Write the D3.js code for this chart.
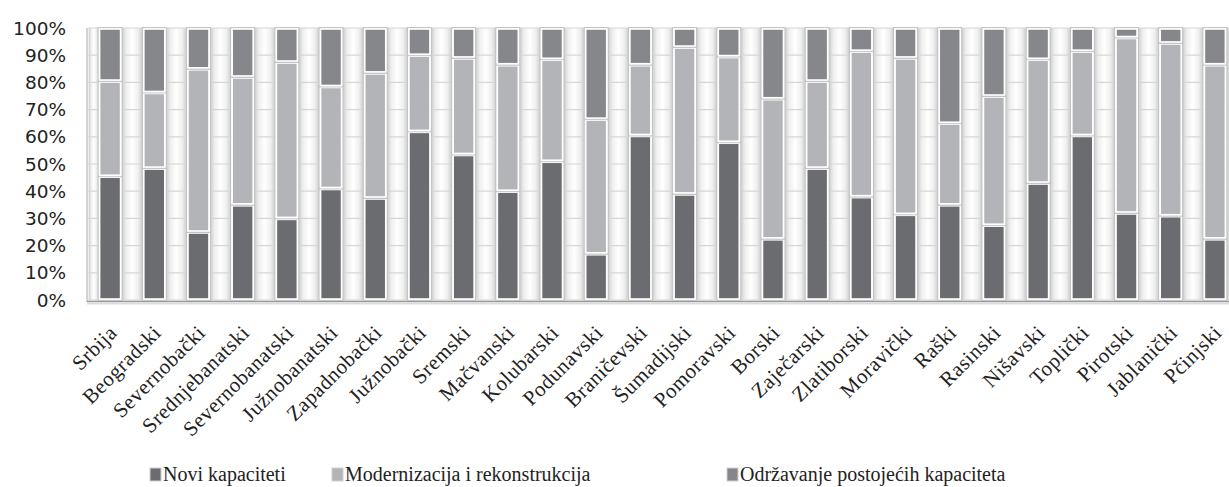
<!DOCTYPE html>
<html>
<head>
<meta charset="utf-8">
<script src="https://cdn.jsdelivr.net/npm/d3@7"></script>
<style>
  body { margin: 0; background: #fff; }
  svg { display: block; }
</style>
</head>
<body>
<div id="chart"></div>
<script>
// categories (districts)
var districts = ["Srbija", "Beogradski", "Severnobački", "Srednjebanatski", "Severnobanatski",
  "Južnobanatski", "Zapadnobački", "Južnobački", "Sremski", "Mačvanski", "Kolubarski",
  "Podunavski", "Braničevski", "Šumadijski", "Pomoravski", "Borski", "Zaječarski",
  "Zlatiborski", "Moravički", "Raški", "Rasinski", "Nišavski", "Toplički", "Pirotski",
  "Jablanički", "Pčinjski"];

// series values, percent
var noviKapaciteti = [45.5, 48.5, 25, 35, 30, 41, 37.5, 62, 53.5, 40, 51, 17, 60.5, 39, 58,
  22.5, 48.5, 38, 31.5, 35, 27.5, 43, 60.5, 32, 31, 22.5];
var modernizacija = [35, 27.8, 60, 47, 57.5, 37.5, 46, 28, 35.5, 46.5, 37.5, 49.5, 26, 54,
  31.5, 51.5, 32, 53.5, 57.5, 30, 47.5, 45.5, 31, 64.5, 63.5, 64];
var odrzavanje = [19.5, 23.7, 15, 18, 12.5, 21.5, 16.5, 10, 11, 13.5, 11.5, 33.5, 13.5, 7,
  10.5, 26, 19.5, 8.5, 11, 35, 25, 11.5, 8.5, 3.5, 5.5, 13.5];

var seriesNames = ["Novi kapaciteti", "Modernizacija i rekonstrukcija", "Održavanje postojećih kapaciteta"];
var yTicks = [0, 10, 20, 30, 40, 50, 60, 70, 80, 90, 100];

var colors = ["#6b6c70", "#b2b4b7", "#86878b"];

var width = 1229, height = 487;
var svg = d3.select("#chart").append("svg")
  .attr("width", width).attr("height", height);

var defs = svg.append("defs");
var grad = defs.append("linearGradient").attr("id", "gap").attr("x1", "0%").attr("x2", "100%");
grad.append("stop").attr("offset", "0%").attr("stop-color", "#c9c9c9");
grad.append("stop").attr("offset", "22%").attr("stop-color", "#efefef");
grad.append("stop").attr("offset", "50%").attr("stop-color", "#ffffff");
grad.append("stop").attr("offset", "78%").attr("stop-color", "#efefef");
grad.append("stop").attr("offset", "100%").attr("stop-color", "#c9c9c9");

var plotLeft = 88, plotRight = 1237, plotTop = 28, plotBottom = 300;

var x = d3.scaleBand().domain(districts).range([plotLeft, plotRight])
  .paddingInner(0.48).paddingOuter(0.24);
var y = d3.scaleLinear().domain([0, 100]).range([plotBottom, plotTop]);

// table for stacking
var rows = districts.map(function (d, i) {
  return { name: d, s0: noviKapaciteti[i], s1: modernizacija[i], s2: odrzavanje[i] };
});
var stacked = d3.stack().keys(["s0", "s1", "s2"])
  .offset(d3.stackOffsetExpand)(rows);

// shaded gaps between bars
var gapW = x.step() - x.bandwidth();
svg.append("g").selectAll("rect")
  .data(districts)
  .enter().append("rect")
  .attr("x", function (d) { return x(d) + x.bandwidth(); })
  .attr("y", plotTop)
  .attr("width", gapW)
  .attr("height", plotBottom - plotTop)
  .attr("fill", "url(#gap)");
svg.append("rect")
  .attr("x", plotLeft + 1).attr("y", plotTop)
  .attr("width", x(districts[0]) - plotLeft - 1)
  .attr("height", plotBottom - plotTop)
  .attr("fill", "url(#gap)");

// gridlines
svg.append("g").selectAll("line")
  .data(yTicks)
  .enter().append("line")
  .attr("x1", plotLeft).attr("x2", plotRight)
  .attr("y1", function (d) { return y(d); })
  .attr("y2", function (d) { return y(d); })
  .attr("stroke", "#d6d6d6")
  .attr("stroke-width", 1.2);

// axes lines
svg.append("line").attr("x1", plotLeft - 1).attr("x2", plotLeft - 1)
  .attr("y1", plotTop).attr("y2", plotBottom + 2)
  .attr("stroke", "#a8a8a8").attr("stroke-width", 1);
svg.append("line").attr("x1", plotLeft + 1).attr("x2", plotLeft + 1)
  .attr("y1", plotTop).attr("y2", plotBottom)
  .attr("stroke", "#dddddd").attr("stroke-width", 1);
svg.append("line").attr("x1", plotLeft - 1).attr("x2", plotRight)
  .attr("y1", plotBottom + 1.5).attr("y2", plotBottom + 1.5)
  .attr("stroke", "#9a9a9a").attr("stroke-width", 1.5);
svg.append("line").attr("x1", plotLeft - 1).attr("x2", plotRight)
  .attr("y1", plotBottom + 3.5).attr("y2", plotBottom + 3.5)
  .attr("stroke", "#dcdcdc").attr("stroke-width", 2);

// bars
var layers = svg.append("g").selectAll("g")
  .data(stacked)
  .enter().append("g")
  .attr("fill", function (d, i) { return colors[i]; });

layers.selectAll("rect.outer")
  .data(function (d) { return d; })
  .enter().append("rect")
  .attr("class", "outer")
  .attr("x", function (d) { return x(d.data.name) - 0.5; })
  .attr("y", function (d) { return y(d[1] * 100) - 0.5; })
  .attr("width", x.bandwidth() + 1)
  .attr("height", function (d) { return y(d[0] * 100) - y(d[1] * 100) + 1; })
  .attr("fill", "none")
  .attr("stroke", "#c4c4c4")
  .attr("stroke-width", 1);

layers.selectAll("rect.bar")
  .data(function (d) { return d; })
  .enter().append("rect")
  .attr("class", "bar")
  .attr("x", function (d) { return x(d.data.name) + 1; })
  .attr("y", function (d) { return y(d[1] * 100) + 1; })
  .attr("width", x.bandwidth() - 2)
  .attr("height", function (d) { return y(d[0] * 100) - y(d[1] * 100) - 2; })
  .attr("stroke", "#ffffff")
  .attr("stroke-width", 1.6);

// y axis labels
svg.append("g").selectAll("text")
  .data(yTicks)
  .enter().append("text")
  .attr("x", 66)
  .attr("y", function (d) { return y(d); })
  .attr("dy", "0.36em")
  .attr("text-anchor", "end")
  .attr("font-family", "DejaVu Sans, Verdana, sans-serif")
  .attr("font-size", "18.5px")
  .attr("fill", "#222")
  .text(function (d) { return d + "%"; });

// x axis labels
svg.append("g").selectAll("text")
  .data(districts)
  .enter().append("text")
  .attr("transform", function (d) {
    return "translate(" + (x(d) + x.bandwidth() / 2 + 8) + "," + 334 + ") rotate(-45)";
  })
  .attr("text-anchor", "end")
  .attr("font-family", "Liberation Serif, Times New Roman, serif")
  .attr("font-size", "21px")
  .attr("letter-spacing", "0.5px")
  .attr("fill", "#222")
  .text(function (d) { return d; });

// legend
var legendX = [150, 332, 727];
var legend = svg.append("g").selectAll("g")
  .data(seriesNames)
  .enter().append("g")
  .attr("transform", function (d, i) { return "translate(" + legendX[i] + ",468)"; });
legend.append("rect")
  .attr("width", 11).attr("height", 13)
  .attr("fill", function (d, i) { return colors[i]; })
  .attr("stroke", "#d0d0d0").attr("stroke-width", 1);
legend.append("text")
  .attr("x", 13).attr("y", 13)
  .attr("font-family", "Liberation Serif, Times New Roman, serif")
  .attr("font-size", "20px")
  .attr("fill", "#222")
  .text(function (d) { return d; });
</script>
</body>
</html>
